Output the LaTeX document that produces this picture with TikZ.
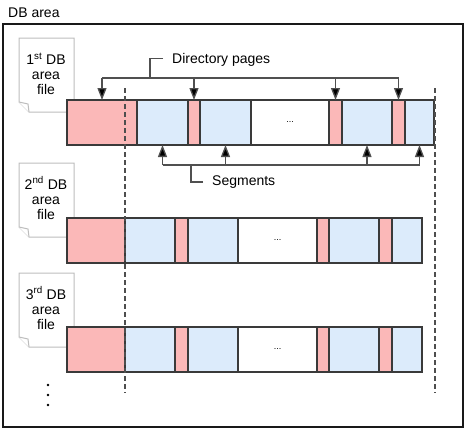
\documentclass[tikz,border=0pt]{standalone}
\usepackage{fontspec}
\setmainfont{Liberation Sans}
\usetikzlibrary{arrows.meta}
\definecolor{pinkc}{HTML}{FBB8B8}
\definecolor{bluec}{HTML}{DCEBFB}
\definecolor{edgec}{HTML}{3A3A3A}
\definecolor{connc}{HTML}{505050}
\definecolor{docc}{HTML}{BDBDBD}
\begin{document}
\begin{tikzpicture}[x=1pt,y=-1pt,
  seg/.style={draw=edgec,line width=1.3pt,inner sep=0pt,outer sep=0pt,minimum height=45pt,anchor=north west},
  lbl/.style={inner sep=0pt,font=\fontsize{14}{15}\selectfont},
  doctext/.style={inner sep=0pt,align=center,font=\fontsize{14}{15}\selectfont},
  docshape/.style={draw=docc,fill=white,line width=1pt},
  conn/.style={draw=connc,line width=1.3pt},
  arr/.style={draw=connc,line width=1.3pt,-{Triangle[length=12pt,width=9pt,fill=black]}},
  dashline/.style={draw=edgec!90,line width=1.4pt,dash pattern=on 5pt off 3pt},
  frame/.style={draw=black!90,line width=2.4pt}]
\useasboundingbox (0,0) rectangle (469,431);

% outer frame
\draw[frame] (3,24) rectangle (463,427);
\node[lbl,anchor=west] (dbarea) at (8,13) {DB area};

% document icons
\draw[docshape] (19,38) -- (74,38) -- (74,112) -- (29,112) -- (19,102) -- cycle;
\draw[docshape] (19,102) -- (28,104) -- (29,112);
\node[doctext] (doc1) at (46,74) {1\textsuperscript{st} DB\\area\\file};

\draw[docshape] (19,163) -- (74,163) -- (74,237) -- (29,237) -- (19,227) -- cycle;
\draw[docshape] (19,227) -- (28,229) -- (29,237);
\node[doctext] (doc2) at (46,198) {2\textsuperscript{nd} DB\\area\\file};

\draw[docshape] (19,273) -- (74,273) -- (74,347) -- (29,347) -- (19,337) -- cycle;
\draw[docshape] (19,337) -- (28,339) -- (29,347);
\node[doctext] (doc3) at (46,308) {3\textsuperscript{rd} DB\\area\\file};

% row 1
\foreach \a/\b/\c [count=\i] in {67/137/pinkc,137/188/bluec,188/200/pinkc,200/251/bluec,251/329/white,329/342/pinkc,342/392/bluec,392/405/pinkc,405/434/bluec}
  \node[seg,fill=\c,minimum width={(\b-\a)*1pt}] (a\i) at (\a,100) {};
% row 2
\foreach \a/\b/\c [count=\i] in {67/125/pinkc,125/175/bluec,175/188/pinkc,188/238/bluec,238/317/white,317/329/pinkc,329/379/bluec,379/392/pinkc,392/422/bluec}
  \node[seg,fill=\c,minimum width={(\b-\a)*1pt}] (b\i) at (\a,218) {};
% row 3
\foreach \a/\b/\c [count=\i] in {67/125/pinkc,125/175/bluec,175/188/pinkc,188/238/bluec,238/317/white,317/329/pinkc,329/379/bluec,379/392/pinkc,392/422/bluec}
  \node[seg,fill=\c,minimum width={(\b-\a)*1pt}] (c\i) at (\a,327) {};

\node[inner sep=0pt,font=\fontsize{9}{9}\selectfont] (a5t) at (a5.center) {...};
\node[inner sep=0pt,font=\fontsize{9}{9}\selectfont] (b5t) at (b5.center) {...};
\node[inner sep=0pt,font=\fontsize{9}{9}\selectfont] (c5t) at (c5.center) {...};

% dashed boundaries
\coordinate (d1t) at (125,88);
\coordinate (d1b) at (125,393);
\coordinate (d2t) at (435,88);
\coordinate (d2b) at (435,393);
\draw[dashline] (d1t) -- (d1b);
\draw[dashline] (d2t) -- (d2b);

% directory pages callout
\node[lbl,anchor=west] (dir) at (172,60) {Directory pages};
\coordinate (dj) at (150,78);
\draw[conn] ([xshift=-9pt,yshift=1.5pt]dir.west) -| (dj);
\draw[conn] (a1.north |- dj) -- (a8.north |- dj);
\foreach \k in {1,3,6,8}
  \draw[arr] (a\k.north |- dj) -- (a\k.north);

% segments callout
\node[lbl,anchor=west] (segl) at (212,182) {Segments};
\coordinate (sj) at (191,165);
\draw[conn] ([xshift=-9pt]segl.west) -| (sj);
\draw[conn] (a2.south |- sj) -- (a9.south |- sj);
\foreach \k in {2,4,7,9}
  \draw[arr] (a\k.south |- sj) -- (a\k.south);

% continuation dots
\fill (48,385) circle (1.4pt) coordinate (dot1);
\fill (48,395) circle (1.4pt) coordinate (dot2);
\fill (48,405) circle (1.4pt) coordinate (dot3);
\end{tikzpicture}
\end{document}
